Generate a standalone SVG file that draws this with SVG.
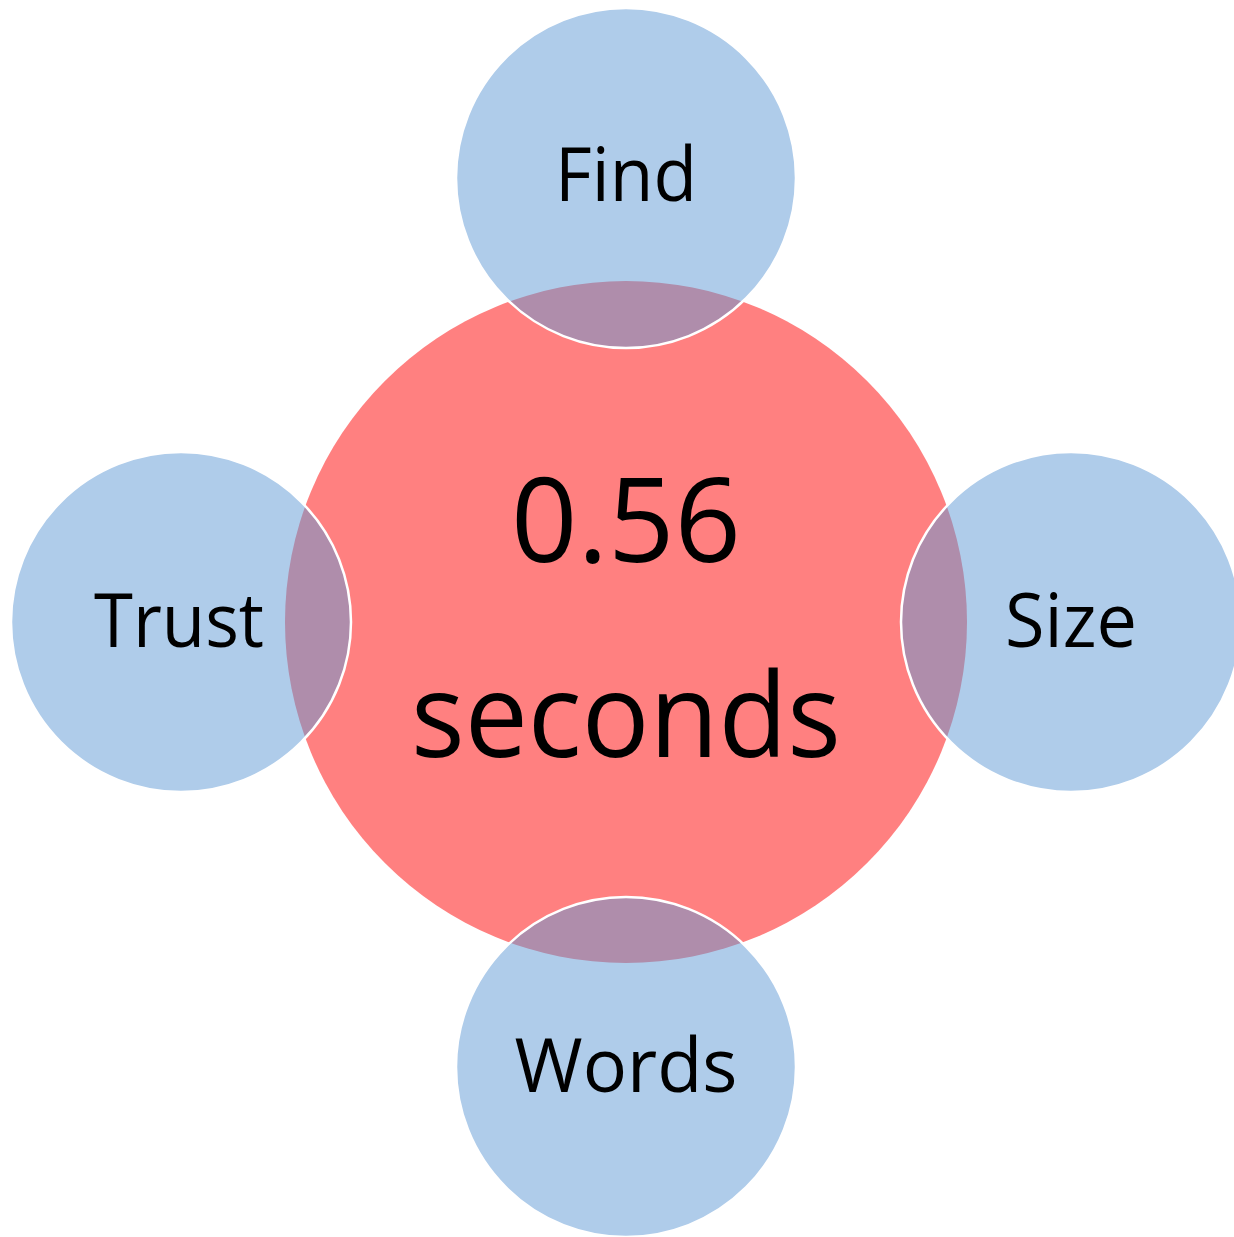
<svg xmlns="http://www.w3.org/2000/svg" width="1234" height="1237" viewBox="0 0 1234 1237">
<style>
.bg{fill:#ffffff}
.hub{fill:#FF8080;stroke:none}
.sat{fill:#5F99D5;fill-opacity:0.5;stroke:#ffffff;stroke-width:2.5}
.lbl{font-family:"Open Sans","Noto Sans","Liberation Sans",sans-serif;font-size:75px;fill:#000000;text-anchor:middle}
.big{font-family:"Open Sans","Noto Sans","Liberation Sans",sans-serif;font-size:118px;fill:#000000;text-anchor:middle}
</style>
<rect class="bg" x="0" y="0" width="1234" height="1237"/>
<g id="center">
<circle class="hub" cx="626" cy="622" r="341"/>
<text class="big" x="626" y="562" textLength="230" lengthAdjust="spacingAndGlyphs">0.56</text>
<text class="big" x="626" y="757" textLength="430" lengthAdjust="spacingAndGlyphs">seconds</text>
</g>
<g id="find">
<circle class="sat" cx="626" cy="178" r="170"/>
<text class="lbl" x="626" y="201" textLength="142" lengthAdjust="spacingAndGlyphs">Find</text>
</g>
<g id="trust">
<circle class="sat" cx="181" cy="622" r="170"/>
<text class="lbl" x="179" y="647" textLength="170" lengthAdjust="spacingAndGlyphs">Trust</text>
</g>
<g id="size">
<circle class="sat" cx="1071" cy="622" r="170"/>
<text class="lbl" x="1071" y="647" textLength="132" lengthAdjust="spacingAndGlyphs">Size</text>
</g>
<g id="words">
<circle class="sat" cx="626" cy="1067" r="170"/>
<text class="lbl" x="626" y="1092" textLength="223" lengthAdjust="spacingAndGlyphs">Words</text>
</g>
</svg>
